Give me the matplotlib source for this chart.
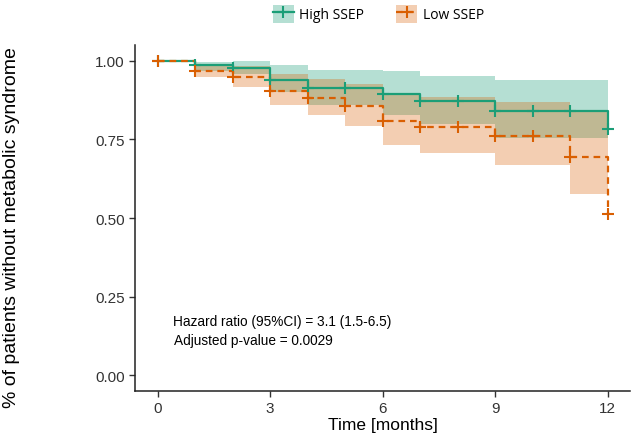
import numpy as np
import matplotlib
matplotlib.use("Agg")
import matplotlib.pyplot as plt
from matplotlib.patches import Patch
from matplotlib.lines import Line2D

plt.rcParams['font.family'] = ['Liberation Sans', 'DejaVu Sans']

# Kaplan-Meier data
times = [0, 1, 2, 3, 4, 5, 6, 7, 8, 9, 10, 11, 12]
high_surv = [1.0, 0.988, 0.978, 0.940, 0.914, 0.914, 0.893, 0.871, 0.871, 0.840, 0.840, 0.840, 0.784]
high_upper = [1.0, 0.995, 1.0, 0.987, 0.971, 0.971, 0.967, 0.953, 0.953, 0.940, 0.940, 0.940]
high_lower = [1.0, 0.969, 0.959, 0.900, 0.858, 0.858, 0.829, 0.800, 0.800, 0.755, 0.755, 0.755]
low_surv = [1.0, 0.967, 0.948, 0.904, 0.883, 0.855, 0.810, 0.788, 0.788, 0.761, 0.761, 0.694, 0.514]
low_upper = [1.0, 0.990, 0.985, 0.959, 0.943, 0.927, 0.892, 0.885, 0.885, 0.869, 0.869, 0.837]
low_lower = [1.0, 0.949, 0.916, 0.858, 0.829, 0.793, 0.731, 0.708, 0.708, 0.668, 0.668, 0.576]

green = '#1B9E77'
orange = '#D95F02'

fig = plt.figure(figsize=(6.32, 4.39), dpi=100)
ax = fig.add_axes([0.2136, 0.107, 0.7834, 0.788])

t = np.array(times)
# bands
ax.fill_between(t, np.append(high_lower, high_lower[-1]), np.append(high_upper, high_upper[-1]),
                step='post', color=green, alpha=0.32, lw=0)
ax.fill_between(t, np.append(low_lower, low_lower[-1]), np.append(low_upper, low_upper[-1]),
                step='post', color=orange, alpha=0.3, lw=0)

# curves
ax.step(t, high_surv, where='post', color=green, lw=1.6)
ax.step(t, low_surv, where='post', color=orange, lw=1.6, linestyle=(0, (3, 2.2)))
ax.plot(t, high_surv, ls='none', marker='+', ms=8.5, mew=1.5, color=green)
ax.plot(t, low_surv, ls='none', marker='+', ms=8.5, mew=1.5, color=orange)

ax.set_xlim(-0.6, 12.6)
ax.set_ylim(-0.05, 1.05)
ax.set_xticks([0, 3, 6, 9, 12])
ax.set_yticks([0, 0.25, 0.5, 0.75, 1.0])
ax.set_yticklabels(['0.00', '0.25', '0.50', '0.75', '1.00'])
for s in ['top', 'right']:
    ax.spines[s].set_visible(False)
for s in ['left', 'bottom']:
    ax.spines[s].set_linewidth(1.1)
    ax.spines[s].set_color('#222222')
ax.tick_params(labelsize=11, colors='#333333', length=4, width=1)

ax.set_xlabel('Time [months]', fontsize=12.5, labelpad=1)
ax.set_ylabel('% of patients without metabolic syndrome', fontsize=14)
ax.yaxis.set_label_coords(-0.232, 0.475)

ax.text(0.40, 0.172, 'Hazard ratio (95%CI) = 3.1 (1.5-6.5)', fontsize=9.8, va='center', ha='left')
ax.text(0.43, 0.113, 'Adjusted p-value = 0.0029', fontsize=9.8, va='center', ha='left')

handles = [
    (Patch(facecolor=green, alpha=0.32, lw=0), Line2D([], [], color=green, lw=1.6, marker='+', ms=8, mew=1.5)),
    (Patch(facecolor=orange, alpha=0.3, lw=0), Line2D([], [], color=orange, lw=1.6, ls=(0, (3, 2)), marker='+', ms=8, mew=1.5)),
]
fig.legend(handles, ['High SSEP', 'Low SSEP'], loc='center', bbox_to_anchor=(0.599, 0.966),
           ncol=2, frameon=False, handlelength=1.5, handleheight=1.6,
           columnspacing=2.3, handletextpad=0.4, prop={'family': ['Open Sans', 'DejaVu Sans'], 'size': 10})

fig.savefig('out.png', dpi=100)
